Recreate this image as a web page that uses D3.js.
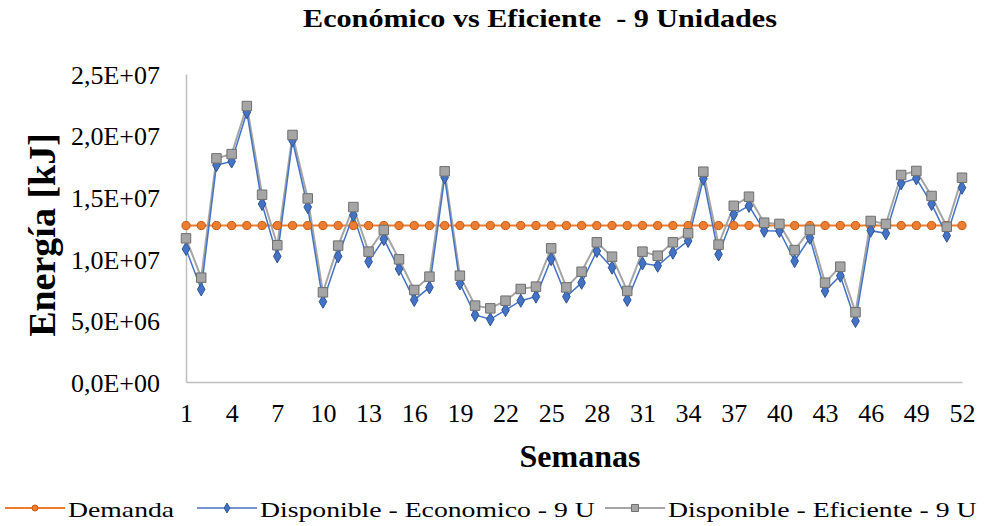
<!DOCTYPE html>
<html>
<head>
<meta charset="utf-8">
<script src="https://cdn.jsdelivr.net/npm/d3@7"></script>
<style>
  body { margin: 0; background: #fff; }
  text { font-family: "Liberation Serif", "Times New Roman", serif; fill: #000; }
</style>
</head>
<body>
<div id="wrapper"></div>
<script>
const weeks = d3.range(1, 53)
const xTickLabels = [1, 4, 7, 10, 13, 16, 19, 22, 25, 28, 31, 34, 37, 40, 43, 46, 49, 52]
const yTicks = [0, 5e6, 1e7, 1.5e7, 2e7, 2.5e7]

const demanda = weeks.map(() => 1.27e7)
const economico = [
  10.8, 7.52, 17.6, 17.9, 21.9, 14.45, 10.2, 19.6, 14.2, 6.52,
  10.2, 13.55, 9.77, 11.6, 9.17, 6.66, 7.68, 16.6, 8.0, 5.44,
  5.09, 5.84, 6.6, 6.93, 9.98, 6.93, 8.06, 10.63, 9.28, 6.66,
  9.63, 9.44, 10.5, 11.45, 16.5, 10.36, 13.6, 14.3, 12.28, 12.26,
  9.82, 11.71, 7.39, 8.63, 4.95, 12.28, 12.07, 16.13, 16.53, 14.45,
  11.88, 15.77
].map(v => v * 1e6)
const eficiente = [
  11.66, 8.47, 18.15, 18.5, 22.4, 15.2, 11.1, 20.05, 14.9, 7.28,
  11.07, 14.2, 10.58, 12.34, 9.96, 7.47, 8.55, 17.1, 8.63, 6.2,
  5.98, 6.6, 7.55, 7.74, 10.85, 7.68, 8.95, 11.34, 10.17, 7.39,
  10.58, 10.25, 11.34, 12.07, 17.07, 11.15, 14.3, 15.04, 12.93, 12.83,
  10.71, 12.34, 8.06, 9.36, 5.66, 13.07, 12.83, 16.8, 17.13, 15.1,
  12.6, 16.58
].map(v => v * 1e6)

let dimensions = {
  width: 984,
  height: 526,
  margin: { top: 74, right: 22, bottom: 144, left: 186 },
}
dimensions.boundedWidth = dimensions.width - dimensions.margin.left - dimensions.margin.right
dimensions.boundedHeight = dimensions.height - dimensions.margin.top - dimensions.margin.bottom

const wrapper = d3.select("#wrapper").append("svg")
  .attr("width", dimensions.width)
  .attr("height", dimensions.height)

const bounds = wrapper.append("g")
  .attr("transform", `translate(${dimensions.margin.left},${dimensions.margin.top})`)

const xScale = d3.scalePoint()
  .domain(weeks)
  .range([0, 776])

const yScale = d3.scaleLinear()
  .domain([0, 2.5e7])
  .range([dimensions.boundedHeight, 0])

// axes
const fmt = v => {
  const s = v.toExponential(1).replace(".", ",")
  return s.replace(/e([+-])(\d)$/, "E$10$2").replace(/e([+-])(\d\d)$/, "E$1$2")
}
const yAxis = bounds.append("g")
  .call(d3.axisLeft(yScale).tickValues(yTicks).tickFormat(fmt).tickSize(0).tickPadding(26))
yAxis.select(".domain").attr("stroke", "#bfbfbf").attr("stroke-width", 1.5)
yAxis.selectAll("text").attr("font-size", 26).attr("font-family", "Liberation Serif").attr("dy", "0.36em")

const xAxis = bounds.append("g")
  .attr("transform", `translate(0,${dimensions.boundedHeight})`)
  .call(d3.axisBottom(xScale).tickValues(xTickLabels).tickSize(0).tickPadding(22))
xAxis.select(".domain").attr("stroke", "#bfbfbf").attr("stroke-width", 1.5)
xAxis.selectAll("text").attr("font-size", 26).attr("font-family", "Liberation Serif")

// series
const series = [
  { name: "Demanda", values: demanda, color: "#ED7D31", fill: "#ED7D31", stroke: "#c55a11", shape: d3.symbolCircle, size: 52, width: 2 },
  { name: "Disponible - Economico - 9 U", values: economico, color: "#4472C4", fill: "#4472C4", stroke: "#2f5597", shape: d3.symbolDiamond, size: 50, width: 1.5 },
  { name: "Disponible - Eficiente - 9 U", values: eficiente, color: "#A5A5A5", fill: "#A5A5A5", stroke: "#6f6f6f", shape: d3.symbolSquare, size: 90, width: 2 },
]

const lineGenerator = (vals) => d3.line()
  .x((d, i) => xScale(weeks[i]))
  .y(d => yScale(d))(vals)

// lines first, then markers on top
;[series[0], series[2], series[1]].forEach(s => {
  bounds.append("path")
    .attr("d", lineGenerator(s.values))
    .attr("fill", "none")
    .attr("stroke", s.color)
    .attr("stroke-width", s.width)
})
;[series[0], series[1], series[2]].forEach(s => {
  bounds.append("g").selectAll("path")
    .data(s.values)
    .join("path")
    .attr("d", d3.symbol(s.shape, s.size))
    .attr("transform", (d, i) => `translate(${xScale(weeks[i])},${yScale(d)})`)
    .attr("fill", s.fill)
    .attr("stroke", s.stroke)
    .attr("stroke-width", 1)
})

// titles (text in the original is stretched horizontally)
wrapper.append("text")
  .attr("transform", "translate(540,27) scale(1.16,1)")
  .attr("text-anchor", "middle")
  .attr("font-size", 26).attr("font-weight", "bold")
  .attr("xml:space", "preserve")
  .text("Económico vs Eficiente  - 9 Unidades")

wrapper.append("text")
  .attr("transform", "translate(55,235) rotate(-90)")
  .attr("text-anchor", "middle")
  .attr("font-size", 38).attr("font-weight", "bold")
  .text("Energía [kJ]")

wrapper.append("text")
  .attr("x", 580).attr("y", 467)
  .attr("text-anchor", "middle")
  .attr("font-size", 32).attr("font-weight", "bold")
  .text("Semanas")

// legend
const legendX = [5, 197, 605]
const legend = wrapper.append("g").attr("transform", "translate(0,508)")
series.forEach((s, i) => {
  const g = legend.append("g").attr("transform", `translate(${legendX[i]},0)`)
  g.append("line").attr("x1", 0).attr("x2", 60).attr("y1", 0).attr("y2", 0)
    .attr("stroke", s.color).attr("stroke-width", s.width)
  g.append("path").attr("d", d3.symbol(s.shape, s.size * 0.55))
    .attr("transform", "translate(30,0)")
    .attr("fill", s.fill).attr("stroke", s.stroke).attr("stroke-width", 1)
  g.append("text")
    .attr("transform", "translate(63,9) scale(1.32,1)")
    .attr("font-size", 21)
    .text(s.name)
})
</script>
</body>
</html>
